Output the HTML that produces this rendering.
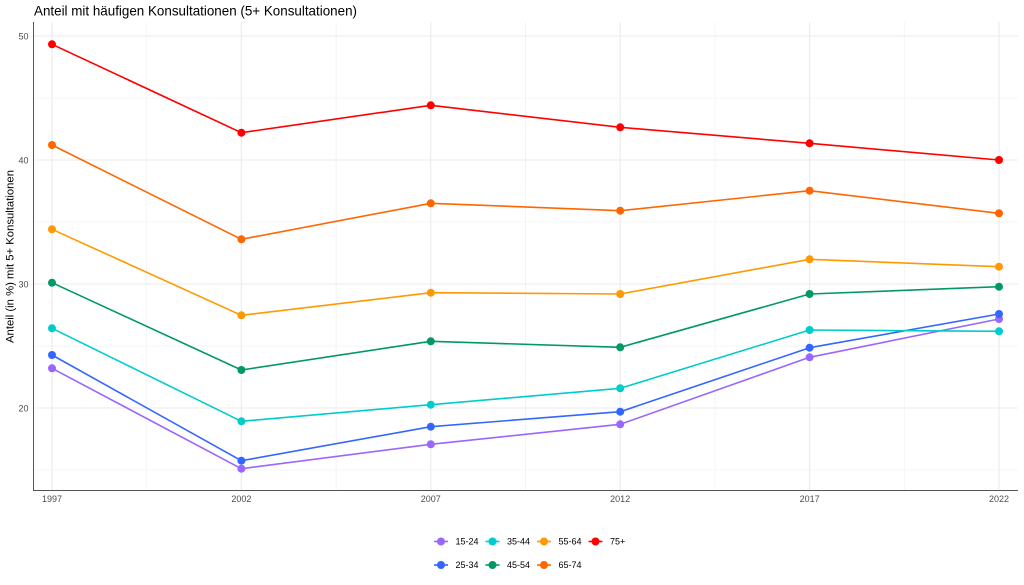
<!DOCTYPE html>
<html><head><meta charset="utf-8"><style>
html,body{margin:0;padding:0;background:#fff;}
svg{display:block;font-family:"Liberation Sans",Arial,sans-serif;}
</style></head><body>
<svg width="1024" height="585" viewBox="0 0 1024 585" xmlns="http://www.w3.org/2000/svg">
<rect width="1024" height="585" fill="#fff"/>
<text x="34" y="15.5" font-size="14" fill="#000" textLength="323" lengthAdjust="spacingAndGlyphs">Anteil mit häufigen Konsultationen (5+ Konsultationen)</text>
<!-- minor grid -->
<g stroke="#f2f2f2" stroke-width="0.8">
<line x1="34" x2="1018" y1="98" y2="98"/>
<line x1="34" x2="1018" y1="222" y2="222"/>
<line x1="34" x2="1018" y1="346" y2="346"/>
<line x1="34" x2="1018" y1="470" y2="470"/>
<line y1="22" y2="490" x1="146.7" x2="146.7"/>
<line y1="22" y2="490" x1="336.1" x2="336.1"/>
<line y1="22" y2="490" x1="525.5" x2="525.5"/>
<line y1="22" y2="490" x1="714.9" x2="714.9"/>
<line y1="22" y2="490" x1="904.3" x2="904.3"/>
</g>
<!-- major grid -->
<g stroke="#ebebeb" stroke-width="1.1">
<line x1="34" x2="1018" y1="36" y2="36"/>
<line x1="34" x2="1018" y1="160" y2="160"/>
<line x1="34" x2="1018" y1="284" y2="284"/>
<line x1="34" x2="1018" y1="408" y2="408"/>
<line y1="22" y2="490" x1="52" x2="52"/>
<line y1="22" y2="490" x1="241.4" x2="241.4"/>
<line y1="22" y2="490" x1="430.8" x2="430.8"/>
<line y1="22" y2="490" x1="620.2" x2="620.2"/>
<line y1="22" y2="490" x1="809.6" x2="809.6"/>
<line y1="22" y2="490" x1="999" x2="999"/>
</g>
<!-- axes -->
<line x1="33.5" x2="33.5" y1="22" y2="490.5" stroke="#555" stroke-width="1"/>
<line x1="33" x2="1018" y1="490.5" y2="490.5" stroke="#555" stroke-width="1"/>
<!-- y tick labels -->
<g font-size="9" fill="#4d4d4d" text-anchor="end">
<text x="28.5" y="39.3">50</text>
<text x="28.5" y="163.3">40</text>
<text x="28.5" y="287.3">30</text>
<text x="28.5" y="411.3">20</text>
</g>
<!-- x tick labels -->
<g font-size="9" fill="#4d4d4d" text-anchor="middle">
<text x="52" y="502">1997</text>
<text x="241.4" y="502">2002</text>
<text x="430.8" y="502">2007</text>
<text x="620.2" y="502">2012</text>
<text x="809.6" y="502">2017</text>
<text x="999" y="502">2022</text>
</g>
<text transform="translate(13.5,256.5) rotate(-90)" font-size="11" fill="#000" text-anchor="middle" textLength="173" lengthAdjust="spacingAndGlyphs">Anteil (in %) mit 5+ Konsultationen</text>
<!-- series -->
<g stroke-width="1.6" fill="none" stroke-linejoin="round">
<polyline stroke="#9966FF" points="52,368.3 241.4,468.7 430.8,444.3 620.2,424.3 809.6,357.3 999,319"/>
<polyline stroke="#3366FF" points="52,355 241.4,460.7 430.8,426.7 620.2,411.7 809.6,347.7 999,314"/>
<polyline stroke="#00CCCC" points="52,328.3 241.4,421.3 430.8,404.7 620.2,388.3 809.6,330 999,331.3"/>
<polyline stroke="#009966" points="52,282.7 241.4,370 430.8,341.3 620.2,347.3 809.6,294 999,286.7"/>
<polyline stroke="#FF9900" points="52,229.3 241.4,315.3 430.8,292.7 620.2,294 809.6,259.3 999,266.7"/>
<polyline stroke="#FF6600" points="52,145 241.4,239.3 430.8,203.3 620.2,210.7 809.6,190.7 999,213.3"/>
<polyline stroke="#FF0000" points="52,44.3 241.4,132.7 430.8,105.3 620.2,127.3 809.6,143.3 999,160"/>
</g>
<g>
<g fill="#9966FF"><circle cx="52" cy="368.3" r="4"/><circle cx="241.4" cy="468.7" r="4"/><circle cx="430.8" cy="444.3" r="4"/><circle cx="620.2" cy="424.3" r="4"/><circle cx="809.6" cy="357.3" r="4"/><circle cx="999" cy="319" r="4"/></g>
<g fill="#3366FF"><circle cx="52" cy="355" r="4"/><circle cx="241.4" cy="460.7" r="4"/><circle cx="430.8" cy="426.7" r="4"/><circle cx="620.2" cy="411.7" r="4"/><circle cx="809.6" cy="347.7" r="4"/><circle cx="999" cy="314" r="4"/></g>
<g fill="#00CCCC"><circle cx="52" cy="328.3" r="4"/><circle cx="241.4" cy="421.3" r="4"/><circle cx="430.8" cy="404.7" r="4"/><circle cx="620.2" cy="388.3" r="4"/><circle cx="809.6" cy="330" r="4"/><circle cx="999" cy="331.3" r="4"/></g>
<g fill="#009966"><circle cx="52" cy="282.7" r="4"/><circle cx="241.4" cy="370" r="4"/><circle cx="430.8" cy="341.3" r="4"/><circle cx="620.2" cy="347.3" r="4"/><circle cx="809.6" cy="294" r="4"/><circle cx="999" cy="286.7" r="4"/></g>
<g fill="#FF9900"><circle cx="52" cy="229.3" r="4"/><circle cx="241.4" cy="315.3" r="4"/><circle cx="430.8" cy="292.7" r="4"/><circle cx="620.2" cy="294" r="4"/><circle cx="809.6" cy="259.3" r="4"/><circle cx="999" cy="266.7" r="4"/></g>
<g fill="#FF6600"><circle cx="52" cy="145" r="4"/><circle cx="241.4" cy="239.3" r="4"/><circle cx="430.8" cy="203.3" r="4"/><circle cx="620.2" cy="210.7" r="4"/><circle cx="809.6" cy="190.7" r="4"/><circle cx="999" cy="213.3" r="4"/></g>
<g fill="#FF0000"><circle cx="52" cy="44.3" r="4"/><circle cx="241.4" cy="132.7" r="4"/><circle cx="430.8" cy="105.3" r="4"/><circle cx="620.2" cy="127.3" r="4"/><circle cx="809.6" cy="143.3" r="4"/><circle cx="999" cy="160" r="4"/></g>
</g>
<!-- legend -->
<g stroke-width="1.6">
<line x1="434" x2="448" y1="541.5" y2="541.5" stroke="#9966FF"/><circle cx="441" cy="541.5" r="4" fill="#9966FF"/>
<line x1="485.5" x2="499.5" y1="541.5" y2="541.5" stroke="#00CCCC"/><circle cx="492.5" cy="541.5" r="4" fill="#00CCCC"/>
<line x1="537" x2="551" y1="541.5" y2="541.5" stroke="#FF9900"/><circle cx="544" cy="541.5" r="4" fill="#FF9900"/>
<line x1="588.5" x2="602.5" y1="541.5" y2="541.5" stroke="#FF0000"/><circle cx="595.5" cy="541.5" r="4" fill="#FF0000"/>
<line x1="434" x2="448" y1="565" y2="565" stroke="#3366FF"/><circle cx="441" cy="565" r="4" fill="#3366FF"/>
<line x1="485.5" x2="499.5" y1="565" y2="565" stroke="#009966"/><circle cx="492.5" cy="565" r="4" fill="#009966"/>
<line x1="537" x2="551" y1="565" y2="565" stroke="#FF6600"/><circle cx="544" cy="565" r="4" fill="#FF6600"/>
</g>
<g font-size="9" fill="#000">
<text x="455.5" y="544.7">15-24</text>
<text x="507" y="544.7">35-44</text>
<text x="558.5" y="544.7">55-64</text>
<text x="610" y="544.7">75+</text>
<text x="455.5" y="568.2">25-34</text>
<text x="507" y="568.2">45-54</text>
<text x="558.5" y="568.2">65-74</text>
</g>
</svg>
</body></html>
